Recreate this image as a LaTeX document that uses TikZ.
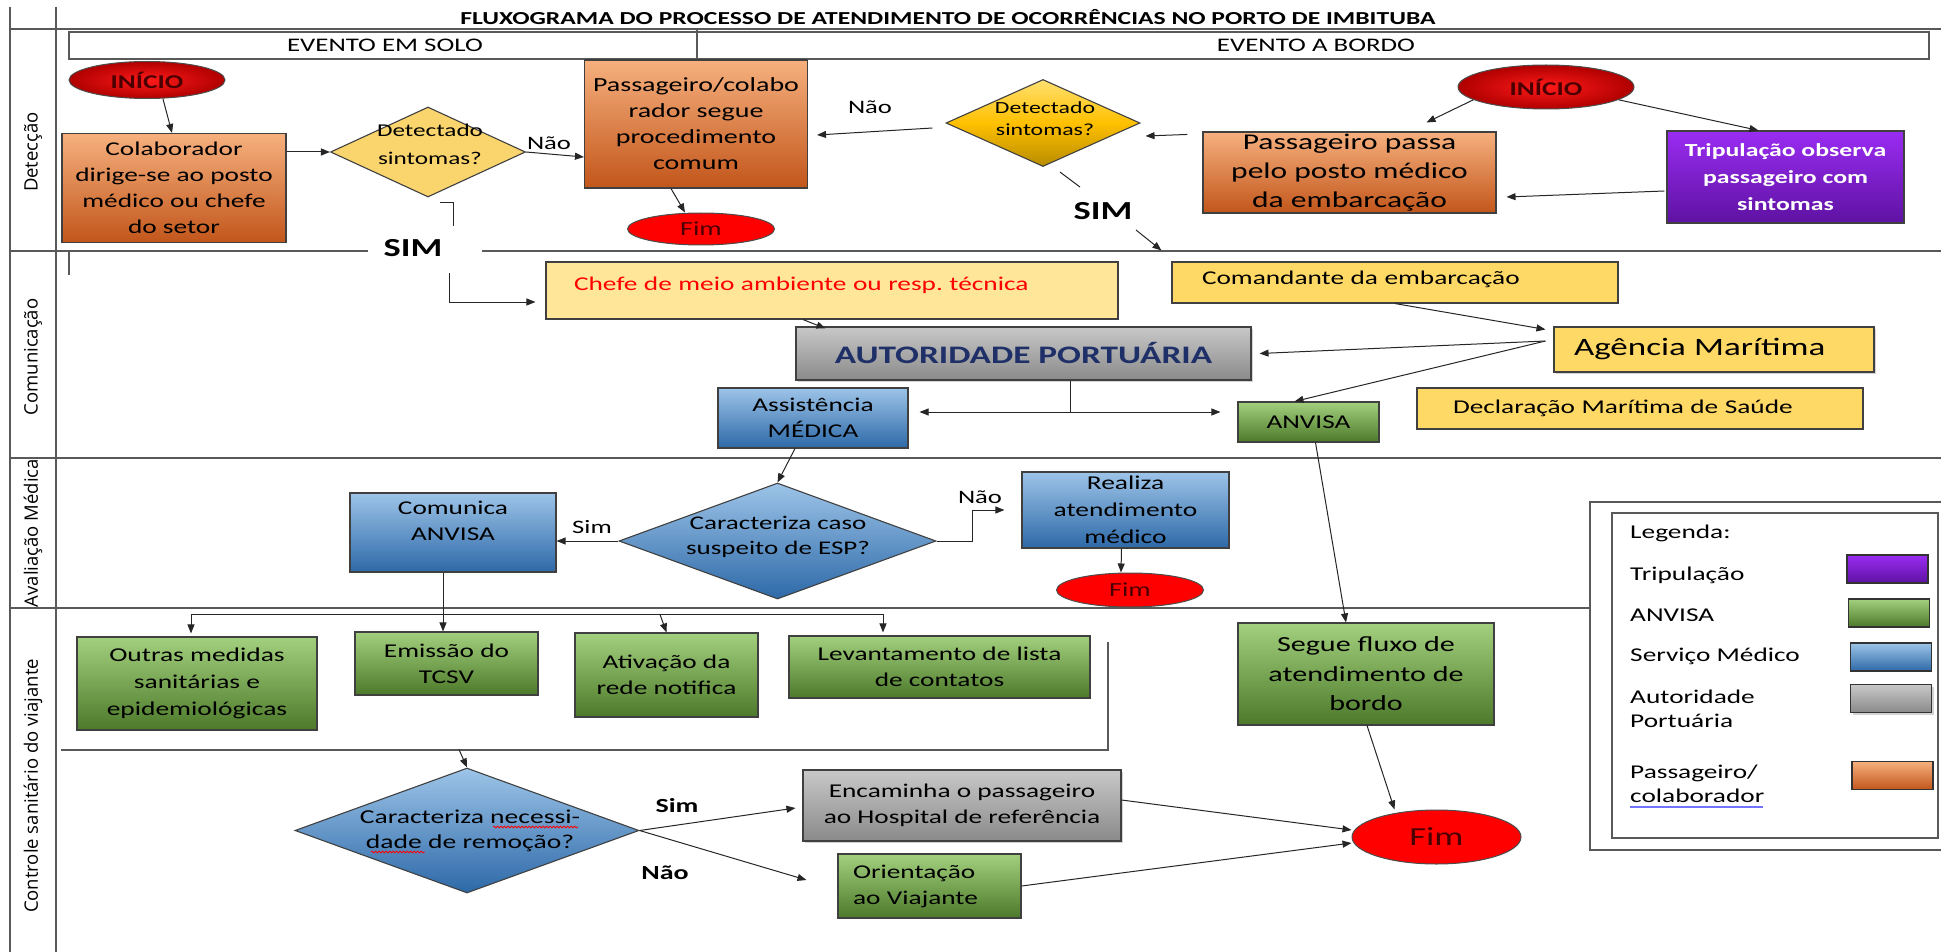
\documentclass[tikz,border=0pt]{standalone}
\usepackage{fontspec}
\setmainfont{Carlito}[FakeStretch=1.4]
\newfontfamily\lanefont{Open Sans}
\usepackage{tikz}
\usetikzlibrary{
    arrows.meta,
    shapes.geometric,
    calc,
    shadows,
    decorations.pathmorphing
}
\newcommand{\fsz}[2]{\fontsize{#1}{#2}\selectfont}
\definecolor{oranget}{HTML}{F6B07E}
\definecolor{orangeb}{HTML}{C2561B}
\definecolor{bluet}{HTML}{9DC4E8}
\definecolor{blueb}{HTML}{2D69A8}
\definecolor{greent}{HTML}{A3D07E}
\definecolor{greenb}{HTML}{4C7A2A}
\definecolor{grayt}{HTML}{C8C8C8}
\definecolor{grayb}{HTML}{8A8A8A}
\definecolor{purplet}{HTML}{9A2CF2}
\definecolor{purpleb}{HTML}{5E12A2}
\definecolor{paleyel}{HTML}{FFE699}
\definecolor{yel}{HTML}{FFD966}
\definecolor{yelflat}{HTML}{FAD56E}
\definecolor{goldt}{HTML}{FFE070}
\definecolor{goldm}{HTML}{FFC000}
\definecolor{goldb}{HTML}{B88C00}
\definecolor{navy}{HTML}{1F3068}
\definecolor{darkred}{HTML}{4A0000}
\definecolor{startin}{HTML}{FF1A1A}
\definecolor{startout}{HTML}{B00000}
\tikzstyle{box} = [
    rectangle,
    draw=black!75,
    line width=1.1pt,
    inner xsep=3pt,
    inner ysep=0pt,
    align=center,
    font=\fsz{19.5}{26}
]
\tikzstyle{orangebox} = [box, top color=oranget, bottom color=orangeb]
\tikzstyle{bluebox} = [box, top color=bluet, bottom color=blueb]
\tikzstyle{greenbox} = [box, top color=greent, bottom color=greenb]
\tikzstyle{graybox} = [box, top color=grayt, bottom color=grayb]
\tikzstyle{purplebox} = [box, top color=purplet, bottom color=purpleb,
    text=white, font=\fsz{18.4}{27}\bfseries]
\tikzstyle{yelbox} = [box, fill=yel]
\tikzstyle{paleyelbox} = [box, fill=paleyel]
\tikzstyle{decision} = [
    diamond,
    draw=black!75,
    line width=1.1pt,
    inner sep=0pt
]
\tikzstyle{dtext} = [align=center, inner sep=0pt, font=\fsz{18}{28}]
\tikzstyle{startnode} = [
    ellipse,
    draw=black!70,
    line width=1pt,
    inner sep=0pt,
    inner color=startin,
    outer color=startout,
    text=darkred,
    font=\fsz{19.5}{24}\bfseries
]
\tikzstyle{endnode} = [
    ellipse,
    draw=black!70,
    line width=1pt,
    inner sep=0pt,
    fill=red,
    text=darkred,
    font=\fsz{20}{24}
]
\tikzstyle{lbl} = [inner sep=1pt, font=\fsz{19}{24}]
\tikzstyle{lblb} = [inner sep=1pt, font=\fsz{20}{24}\bfseries]
\tikzstyle{simlbl} = [inner sep=6pt, font=\fsz{26}{30}\bfseries]
\tikzstyle{lane} = [rotate=90, font=\lanefont\fsz{18.5}{21}]
\tikzstyle{legtxt} = [anchor=west, inner sep=0pt, align=left, font=\fsz{19.5}{24}]
\tikzstyle{swatch} = [
    rectangle,
    draw=black!80,
    line width=1.2pt,
    minimum width=81pt,
    minimum height=28pt,
    inner sep=0pt
]
\tikzstyle{arrow} = [
    -{Triangle[length=9pt, width=7pt]},
    line width=1pt,
    draw=black!85
]
\tikzstyle{conn} = [line width=1pt, draw=black!85]
\tikzstyle{frame} = [line width=1.6pt, draw=black!65]
\tikzstyle{squig} = [decorate, decoration={snake, amplitude=0.9pt, segment length=3.5pt}, line width=0.8pt]

\begin{document}
\begin{tikzpicture}[x=1pt, y=-1pt]
        \useasboundingbox (0,0) rectangle (1941,952);

        % Frame and swimlanes
        \draw[frame] (10,7) -- (10,952);
        \draw[frame] (56,7) -- (56,952);
        \draw[frame] (10,29) -- (1941,29);
        \draw[frame] (10,251) -- (368,251);
        \draw[frame] (482,251) -- (1941,251);
        \draw[frame] (10,458) -- (1941,458);
        \draw[frame] (10,608) -- (1590,608);
        \draw[frame, line width=1.2pt] (69,252) -- (69,275);
        \node[font=\fsz{18.3}{22}\bfseries] (title) at (948,17)
            {FLUXOGRAMA DO PROCESSO DE ATENDIMENTO DE OCORRÊNCIAS NO PORTO DE IMBITUBA};

        % Event header
        \draw[frame, line width=1.2pt] (69,32) rectangle (1929,59);
        \draw[frame, line width=1.2pt] (697,29) -- (697,59);
        \node[font=\fsz{19.2}{22}] (solo) at (385,45.5) {EVENTO EM SOLO};
        \node[font=\fsz{19.2}{22}] (bordo) at (1316,45.5) {EVENTO A BORDO};

        % Lane names
        \node[lane] (lDet) at (33,152) {Detecção};
        \node[lane] (lCom) at (33,357) {Comunicação};
        \node[lane] (lAva) at (33,533) {Avaliação Médica};
        \node[lane] (lCtl) at (33,786) {Controle sanitário do viajante};

        % Detection, event on land
        \node[startnode, minimum width=156pt, minimum height=37pt] (inicioA) at (147,80) {INÍCIO};
        \node[orangebox, minimum width=224pt, minimum height=109pt] (colab) at (174,188)
            {Colaborador\\dirige-se ao posto\\médico ou chefe\\do setor};
        \node[decision, fill=yelflat, minimum width=195pt, minimum height=90pt] (dsA) at (428,152) {};
        \node[dtext] (dsAtxt) at (430,144) {Detectado\\sintomas?};
        \node[orangebox, font=\fsz{20}{26}, minimum width=223pt, minimum height=128pt] (psA) at (696,124)
            {Passageiro/colabo\\rador segue\\procedimento\\comum};
        \node[endnode, minimum width=147pt, minimum height=32pt] (fimA) at (701,229) {Fim};
        \node[lbl] (naoA) at (549,143) {Não};
        \node[simlbl] (simA) at (413,248) {SIM};

        \draw[arrow] ($(inicioA.south)+(16,0)$) -- ($(colab.north)+(-2,0)$);
        \draw[arrow] ($(colab.east)+(0,-36)$) -- (dsA.west);
        \draw[arrow] (dsA.east) -- ($(psA.west)+(0,33)$);
        \draw[arrow] ($(psA.south)+(-25,0)$) -- ($(fimA.north)+(-16,0)$);
        \draw[conn] ($(dsA.south)+(12,5)$) -| ($(dsA.south)+(25,28)$);

        % Detection, event on board
        \node[startnode, minimum width=176pt, minimum height=44pt] (inicioB) at (1546,87) {INÍCIO};
        \node[orangebox, font=\fsz{22.5}{29}, minimum width=293pt, minimum height=81pt] (psB) at (1349.5,172.5)
            {Passageiro passa\\pelo posto médico\\da embarcação};
        \node[purplebox, minimum width=237pt, minimum height=92pt] (trip) at (1785.5,177)
            {Tripulação observa\\passageiro com\\sintomas};
        \node[decision, top color=goldt, bottom color=goldb, middle color=goldm,
            minimum width=194pt, minimum height=87pt] (dsB) at (1043,123) {};
        \node[dtext, font=\fsz{17}{22}] (dsBtxt) at (1045,119) {Detectado\\sintomas?};
        \node[lbl] (naoB) at (870,107) {Não};
        \node[simlbl] (simB) at (1103,211) {SIM};

        \draw[arrow] (inicioB.190) -- ($(psB.north)+(77,-9)$);
        \draw[arrow] (inicioB.350) -- ($(trip.north)+(-27,0)$);
        \draw[arrow] ($(trip.west)+(-2,14)$) -- ($(psB.east)+(10,24.5)$);
        \draw[arrow] ($(psB.north west)+(-15,3)$) -- ($(dsB.east)+(5,13)$);
        \draw[arrow] ($(dsB.west)+(-13,5)$) -- ($(psA.east)+(9,11)$);
        \draw[conn] ($(dsB.south)+(17,5)$) -- ($(dsB.south)+(37,20)$);

        % Communication
        \node[paleyelbox, text=red, minimum width=572pt, minimum height=57pt,
            text width=516pt, inner xsep=28pt, align=left, text depth=14pt] (chefe) at (832,290.5)
            {Chefe de meio ambiente ou resp.\ técnica};
        \node[yelbox, minimum width=446pt, minimum height=41pt,
            text width=386pt, inner xsep=30pt, align=left, text depth=9pt] (cmd) at (1395,282.5)
            {Comandante da embarcação};
        \node[yelbox, drop shadow={opacity=0.35}, font=\fsz{25}{30}, minimum width=320pt, minimum height=45pt,
            text width=280pt, inner xsep=20pt, align=left] (agm) at (1714,349.5)
            {Agência Marítima};
        \node[graybox, drop shadow={opacity=0.35}, text=navy, font=\fsz{25.2}{30}\bfseries,
            minimum width=455pt, minimum height=53pt] (ap) at (1023.5,353.5)
            {AUTORIDADE PORTUÁRIA};
        \node[yelbox, minimum width=446pt, minimum height=41pt,
            text width=374pt, inner xsep=36pt, align=left] (dms) at (1640,408.5)
            {Declaração Marítima de Saúde};
        \node[bluebox, minimum width=190pt, minimum height=60pt] (assist) at (813,418)
            {Assistência\\MÉDICA};
        \node[greenbox, minimum width=141pt, minimum height=40pt] (anvisa) at (1308.5,422) {ANVISA};
        \coordinate (agmout) at ($(agm.west)+(-8,-8.5)$);

        \draw[arrow] ($(simA)+(36,25)$) |- ($(chefe.west)+(-10,11.5)$);
        \draw[arrow] ($(simB)+(33,19)$) -- ($(cmd.north west)+(-10,-11)$);
        \draw[arrow] ($(chefe.south)+(-29,0)$) -- ($(ap.north west)+(30,2)$);
        \draw[arrow] (cmd.south) -- ($(agm.north west)+(-8,3)$);
        \draw[arrow] (agmout) -- ($(ap.east)+(8,0)$);
        \draw[arrow] (agmout) -- ($(anvisa.north)+(-14,0)$);
        \draw[conn] ($(ap.south)+(47,0)$) -- ++(0,32);
        \draw[arrow, {Triangle[length=9pt, width=7pt]}-{Triangle[length=9pt, width=7pt]}]
            ($(assist.east)+(11,-6)$) -- ($(anvisa.west)+(-17,-10)$);

        % Medical evaluation
        \node[decision, top color=bluet, bottom color=blueb, minimum width=317pt, minimum height=116pt] (caso) at (777.5,541) {};
        \node[dtext, font=\fsz{19.3}{25}] (casotxt) at (778,537) {Caracteriza caso\\suspeito de ESP?};
        \node[bluebox, minimum width=206pt, minimum height=79pt, text depth=24pt] (comunica) at (453,532.5) {Comunica\\ANVISA};
        \node[bluebox, font=\fsz{19.6}{27}, minimum width=207pt, minimum height=76pt] (realiza) at (1125.5,510)
            {Realiza\\atendimento\\médico};
        \node[endnode, minimum width=147pt, minimum height=34pt] (fimB) at (1130,590) {Fim};
        \node[lbl] (simC) at (592,527) {Sim};
        \node[lbl] (naoC) at (980,497) {Não};

        \draw[arrow] ($(assist.south)+(-18,0)$) -- (caso.north);
        \draw[arrow] (caso.west) -- (comunica.east |- caso.west);
        \draw[arrow] (caso.east) -- ++(36,0) |- ($(realiza.west)+(-17,0)$);
        \draw[arrow] ($(realiza.south)+(-4,0)$) -- ($(fimB.north)+(-9,0)$);

        % Traveller sanitary control
        \node[greenbox, font=\fsz{19.6}{27}, minimum width=240pt, minimum height=93pt] (outras) at (197,683.5)
            {Outras medidas\\sanitárias e\\epidemiológicas};
        \node[greenbox, minimum width=183pt, minimum height=63pt] (emissao) at (446.5,663.5) {Emissão do\\TCSV};
        \node[greenbox, minimum width=183pt, minimum height=84pt] (ativacao) at (666.5,675) {Ativação da\\rede notifica};
        \node[greenbox, minimum width=301pt, minimum height=62pt] (levant) at (939.5,667)
            {Levantamento de lista\\de contatos};
        \node[greenbox, font=\fsz{21.5}{29.5}, minimum width=256pt, minimum height=102pt] (segue) at (1366,674)
            {Segue fluxo de\\atendimento de\\bordo};
        \coordinate (split) at ($(comunica.south)+(-10,43)$);

        \draw[arrow] ($(anvisa.south)+(7,0)$) -- ($(segue.north)+(-20,0)$);
        \draw[conn] ($(comunica.south)+(-10,0)$) -- (split);
        \draw[conn] ($(outras.north)+(-6,-22)$) -- ($(levant.north)+(-56.5,-21)$);
        \draw[arrow] ($(outras.north)+(-6,-22)$) -- ($(outras.north)+(-6,-3)$);
        \draw[arrow] (split) -- ($(emissao.north)+(-3.5,0)$);
        \draw[arrow] ($(ativacao.north)+(-6.5,-18)$) -- (ativacao.north);
        \draw[arrow] ($(levant.north)+(-56.5,-21)$) -- ($(levant.north)+(-56.5,-3)$);
        \draw[frame, line width=1.3pt] (61,750) -- (1108,750) -- (1108,642);

        \node[decision, top color=bluet, bottom color=blueb, minimum width=344pt, minimum height=125pt] (remo) at (467,830.5) {};
        \node[dtext, font=\fsz{19.7}{25}] (remotxt) at (470,831) {Caracteriza necessi-\\dade de remoção?};
        \node[graybox, drop shadow={opacity=0.35}, minimum width=318pt, minimum height=71pt] (encam) at (962,805.5)
            {Encaminha o passageiro\\ao Hospital de referência};
        \node[greenbox, minimum width=183pt, minimum height=64pt,
            text width=153pt, inner xsep=15pt, align=left] (orient) at (929.5,886)
            {Orientação\\ao Viajante};
        \node[endnode, font=\fsz{26}{30}, minimum width=169pt, minimum height=54pt] (fimC) at (1436.5,837) {Fim};
        \node[lblb] (simD) at (677,806) {Sim};
        \node[lblb] (naoD) at (665,873) {Não};
        \draw[squig, red] (493,827) -- (578,827);
        \draw[squig, red] (371,852) -- (425,852);

        \draw[arrow] ($(remo.north)+(-8,-18)$) -- (remo.north);
        \draw[arrow] (remo.east) -- ($(encam.west)+(-7,2.5)$);
        \draw[arrow] (remo.east) -- ($(orient.west)+(-31,-6)$);
        \draw[arrow] ($(encam.east)+(0,-5.5)$) -- ($(fimC.west)+(0,-7)$);
        \draw[arrow] (orient.east) -- ($(fimC.west)+(0,6)$);
        \draw[arrow] ($(segue.south)+(1,0)$) -- ($(fimC.north)+(-42,0)$);

        % Legend
        \draw[frame, line width=1.3pt] (1941,502) -- (1590,502) -- (1590,850) -- (1941,850);
        \draw[frame, line width=1.3pt] (1612,513) rectangle (1938,838);
        \node[legtxt] (legTitle) at (1630,533) {Legenda:};
        \node[legtxt] (legTrip) at (1630,575) {Tripulação};
        \node[legtxt] (legAnv) at (1630,615) {ANVISA};
        \node[legtxt] (legMed) at (1630,656) {Serviço Médico};
        \node[legtxt] (legAp) at (1630,709) {Autoridade\\Portuária};
        \node[legtxt] (legPass) at (1630,784) {Passageiro/\\colaborador};
        \node[swatch, top color=purplet, bottom color=purpleb] (swTrip) at (1887.5,569) {};
        \node[swatch, top color=greent, bottom color=greenb] (swAnv) at (1889,613) {};
        \node[swatch, top color=bluet, bottom color=blueb] (swMed) at (1891,657) {};
        \node[swatch, top color=grayt, bottom color=grayb, drop shadow={opacity=0.35}] (swAp) at (1891,698.5) {};
        \node[swatch, top color=oranget, bottom color=orangeb] (swPass) at (1892.5,775.5) {};
        \draw[blue!55, line width=1.5pt] (1630,807) -- (1763,807);
    \end{tikzpicture}
\end{document}
